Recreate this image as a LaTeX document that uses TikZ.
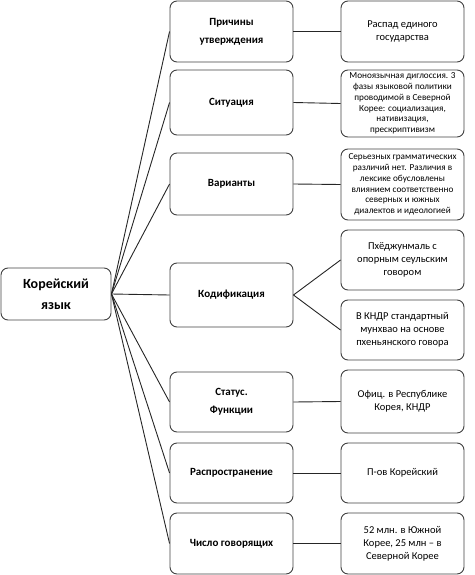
\documentclass[tikz,border=0pt]{standalone}
\usepackage{fontspec}
\setmainfont{Carlito}

\begin{document}
\begin{tikzpicture}[x=1pt,y=-1pt,
  box/.style={draw=black!75, rounded corners=7pt, line width=0.9pt, inner sep=0pt, align=center, minimum width=123pt},
  rootbox/.style={box, minimum width=110pt, minimum height=52pt, font=\fontsize{14}{21}\selectfont\bfseries},
  midbox/.style={box, font=\fontsize{11}{18}\selectfont\bfseries},
  infobox/.style={box, font=\fontsize{10.5}{13}\selectfont},
  smallbox/.style={box, font=\fontsize{9.2}{10.7}\selectfont},
  link/.style={draw=black!85, line width=0.9pt}]
\useasboundingbox (0,0) rectangle (474,575);

% root
\node[rootbox] (lang) at (56,294) {Корейский\\язык};

% middle column
\node[midbox, minimum height=61pt] (reason) at (231.5,31.5) {Причины\\утверждения};
\node[midbox, minimum height=65pt] (situation) at (231.5,102.5) {Ситуация};
\node[midbox, minimum height=62pt] (variants) at (231.5,184) {Варианты};
\node[midbox, minimum height=64pt] (codif) at (231.5,295) {Кодификация};
\node[midbox, minimum height=60pt] (status) at (231.5,402) {Статус.\\Функции};
\node[midbox, minimum height=60pt] (spread) at (231.5,473) {Распространение};
\node[midbox, minimum height=61pt] (speakers) at (231.5,543.5) {Число говорящих};

% right column
\node[infobox, minimum height=61pt] (collapse) at (402.5,31.5) {Распад единого\\государства};
\node[smallbox, minimum height=67pt] (diglossia) at (402.5,103.5) {Моноязычная диглоссия. 3\\фазы языковой политики\\проводимой в Северной\\Корее: социализация,\\нативизация,\\прескриптивизм};
\node[smallbox, minimum height=71pt] (lexis) at (402.5,184.5) {Серьезных грамматических\\различий нет. Различия в\\лексике обусловлены\\влиянием соответственно\\северных и южных\\диалектов и идеологией};
\node[infobox, minimum height=60pt] (seoul) at (402.5,260) {Пхёджунмаль с\\опорным сеульским\\говором};
\node[infobox, minimum height=60pt] (pyong) at (402.5,330) {В КНДР стандартный\\мунхвао на основе\\пхеньянского говора};
\node[infobox, minimum height=63pt] (official) at (402.5,401.5) {Офиц. в Республике\\Корея, КНДР};
\node[infobox, minimum height=60pt] (peninsula) at (402.5,473) {П-ов Корейский};
\node[infobox, minimum height=61pt] (million) at (402.5,543.5) {52 млн. в Южной\\Корее, 25 млн – в\\Северной Корее};

% connectors
\foreach \m in {reason,situation,variants,codif,status,spread,speakers}
  \draw[link] (lang.east) -- (\m.west);
\draw[link] (reason.east) -- (collapse.west);
\draw[link] (situation.east) -- (diglossia.west);
\draw[link] (variants.east) -- (lexis.west);
\draw[link] (codif.east) -- (seoul.west);
\draw[link] (codif.east) -- (pyong.west);
\draw[link] (status.east) -- (official.west);
\draw[link] (spread.east) -- (peninsula.west);
\draw[link] (speakers.east) -- (million.west);
\end{tikzpicture}
\end{document}
